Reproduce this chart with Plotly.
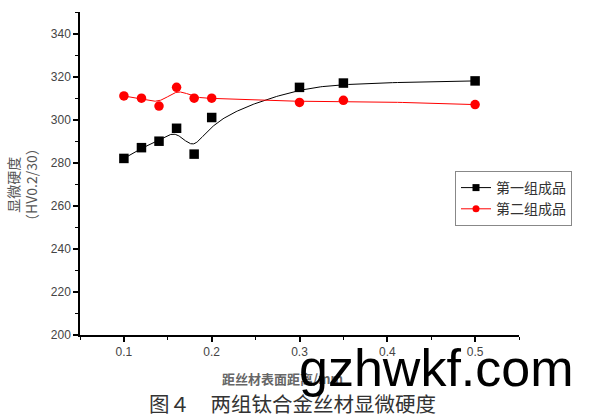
import numpy as np
import plotly.graph_objects as go

# ---- data ----
distance = [0.10, 0.12, 0.14, 0.16, 0.18, 0.20, 0.30, 0.35, 0.50]
group1 = [282, 287, 290, 296, 284, 301, 315, 317, 318]
group2 = [311, 310, 306.3, 315, 310, 310, 308, 309, 307]
series_names = ["第一组成品", "第二组成品"]
x_ticks = [0.1, 0.2, 0.3, 0.4, 0.5]
y_ticks = [200, 220, 240, 260, 280, 300, 320, 340]


def bspline(xs, ys, n=300, k=3):
    """Clamped cubic B-spline using the data points as control points (Origin-style)."""
    P = np.column_stack([xs, ys]).astype(float)
    m = len(P)
    inner = np.arange(1, m - k)
    t = np.concatenate([np.zeros(k + 1), inner, np.full(k + 1, m - k)]).astype(float)
    us = np.linspace(0, m - k, n)
    out = []
    for u in us:
        if u >= t[m]:
            s = m - 1
        else:
            s = np.searchsorted(t, u, side="right") - 1
        d = [P[j + s - k].copy() for j in range(k + 1)]
        for r in range(1, k + 1):
            for j in range(k, r - 1, -1):
                i = j + s - k
                denom = t[i + k + 1 - r] - t[i]
                a = 0.0 if denom == 0 else (u - t[i]) / denom
                d[j] = (1 - a) * d[j - 1] + a * d[j]
        out.append(d[k])
    out = np.array(out)
    return out[:, 0], out[:, 1]


colors = ["#000000", "#ff0000"]
symbols = ["square", "circle"]
fig = go.Figure()

for name, ys, c, sym in zip(series_names, [group1, group2], colors, symbols):
    cx, cy = bspline(distance, ys)
    fig.add_trace(go.Scatter(x=cx, y=cy, mode="lines", line=dict(color=c, width=1),
                             showlegend=False, hoverinfo="skip"))
    fig.add_trace(go.Scatter(x=distance, y=ys, mode="markers",
                             marker=dict(symbol=sym, color=c, size=9.5), showlegend=False))
    fig.add_trace(go.Scatter(x=[None], y=[None], mode="lines+markers", name=name,
                             line=dict(color=c, width=1),
                             marker=dict(symbol=sym, color=c, size=7)))

tickfont = dict(family="Liberation Sans, Arial", size=12, color="#444444")
fig.update_xaxes(range=[0.05, 0.55], tickvals=x_ticks, ticktext=[str(v) for v in x_ticks],
                 showgrid=False, zeroline=False, showline=True, linecolor="black", linewidth=1.5,
                 ticks="outside", ticklen=5, tickwidth=1.5, tickcolor="black", tickfont=tickfont,
                 automargin=False,
                 minor=dict(dtick=0.05, tick0=0.05, ticks="outside", ticklen=3, tickwidth=1, tickcolor="black"))
fig.update_yaxes(range=[200, 350], tickvals=y_ticks, showgrid=False, zeroline=False,
                 showline=True, linecolor="black", linewidth=1.5,
                 ticks="outside", ticklen=5, tickwidth=1.5, tickcolor="black", tickfont=tickfont,
                 automargin=False,
                 minor=dict(dtick=10, tick0=200, ticks="outside", ticklen=3, tickwidth=1, tickcolor="black"))

fig.update_layout(
    width=595, height=418,
    margin=dict(l=80, r=76, t=12, b=83, autoexpand=False),
    plot_bgcolor="white", paper_bgcolor="white",
    legend=dict(x=(455 - 80) / 439, y=(335 - 171) / 323, xanchor="left", yanchor="top",
                bordercolor="#888888", borderwidth=1, bgcolor="white",
                font=dict(family="Noto Sans CJK SC", size=14, color="#333333"),
                tracegroupgap=0, itemwidth=30),
    annotations=[
        dict(text="显微硬度<br>（HV0.2/30）", textangle=-90, xref="paper", yref="paper",
             x=(22 - 80) / 439, y=(335 - 185) / 323, xanchor="center", yanchor="middle", showarrow=False,
             font=dict(family="Noto Sans CJK SC", size=14, color="#555555")),
        dict(text="<b>距丝材表面距离/mm</b>", xref="paper", yref="paper",
             x=(282 - 80) / 439, y=(335 - 378) / 323, xanchor="center", yanchor="middle",
             showarrow=False, font=dict(family="Noto Sans CJK SC", size=13, color="#666666")),
        dict(text="图４　两组钛合金丝材显微硬度", xref="paper", yref="paper",
             x=(292 - 80) / 439, y=(335 - 403) / 323, xanchor="center", yanchor="middle",
             showarrow=False, font=dict(family="Noto Sans CJK SC", size=20.5, color="#333333")),
        dict(text="gzhwkf.com", xref="paper", yref="paper",
             x=(436 - 80) / 439, y=(335 - 368) / 323, xanchor="center", yanchor="middle",
             showarrow=False, font=dict(family="Liberation Sans, Arial", size=52, color="#000000")),
    ],
)

fig.write_html("out.html", config={"displayModeBar": False},
               post_script="document.body.style.margin='0';document.body.style.overflow='hidden';")
